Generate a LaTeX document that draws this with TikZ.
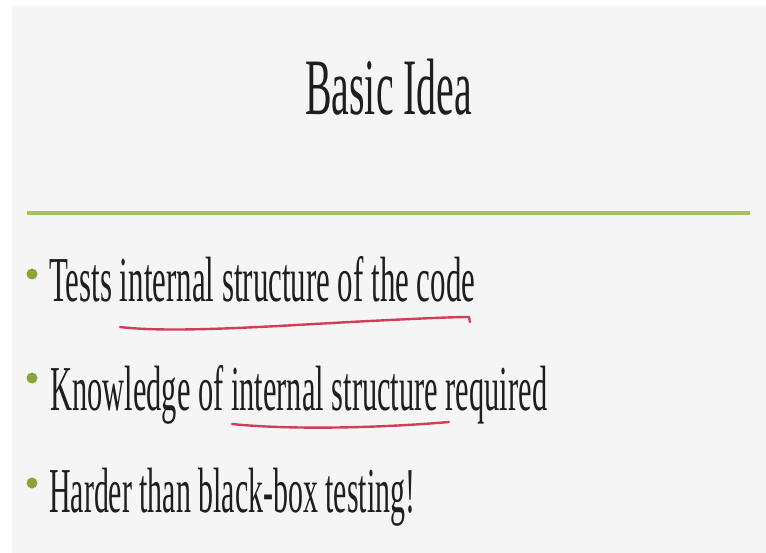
\documentclass[tikz,border=0pt]{standalone}
\usepackage{fontspec}
\setmainfont{Liberation Serif}
\usepackage{graphicx}

\definecolor{slidebg}{RGB}{245,245,245}
\definecolor{rulegreen}{RGB}{163,192,104}
\definecolor{dotgreen}{RGB}{136,165,58}
\definecolor{inkred}{RGB}{208,62,90}
\definecolor{textgray}{RGB}{30,30,30}

\tikzset{
    bullettext/.style={anchor=base west, inner sep=0pt, text=textgray,
        font=\fontsize{64}{70}\selectfont},
    titletext/.style={anchor=base west, inner sep=0pt, text=textgray,
        font=\fontsize{80}{86}\selectfont},
    bulletdot/.style={circle, fill=dotgreen, inner sep=0pt, minimum size=11pt},
    scribble/.style={inkred, line width=2.4pt, line cap=round, line join=round}
}

\begin{document}
\begin{tikzpicture}[x=1pt, y=-1pt]
    \useasboundingbox (0,0) rectangle (766,553);
    \fill[white] (0,0) rectangle (766,553);
    % slide area
    \fill[slidebg] (12,6) rectangle (766,553);

    % title and rule
    \node[titletext] (title) at (305,115) {\resizebox{167pt}{\height}{Basic Idea}};
    \draw[rulegreen, line width=3.2pt] (27,213) -- (750,213);

    % bullets
    \node[bulletdot] (dot1) at (32,274) {};
    \node[bullettext] (item1) at (49,302)
        {\resizebox{426pt}{\height}{Tests internal structure of the code}};
    \node[bulletdot] (dot2) at (32,378) {};
    \node[bullettext] (item2) at (50,410)
        {\resizebox{497pt}{\height}{Knowledge of internal structure required}};
    \node[bulletdot] (dot3) at (32,483) {};
    \node[bullettext] (item3) at (49,512)
        {\resizebox{366pt}{\height}{Harder than black-box testing!}};

    % hand drawn underlines
    \draw[scribble] (120,327) .. controls (170,333) and (260,327) .. (350,322)
        .. controls (410,319) and (450,317) .. (469,317) -- (470,322);
    \draw[scribble] (232,424) .. controls (290,430) and (380,428) .. (449,422);
\end{tikzpicture}
\end{document}
